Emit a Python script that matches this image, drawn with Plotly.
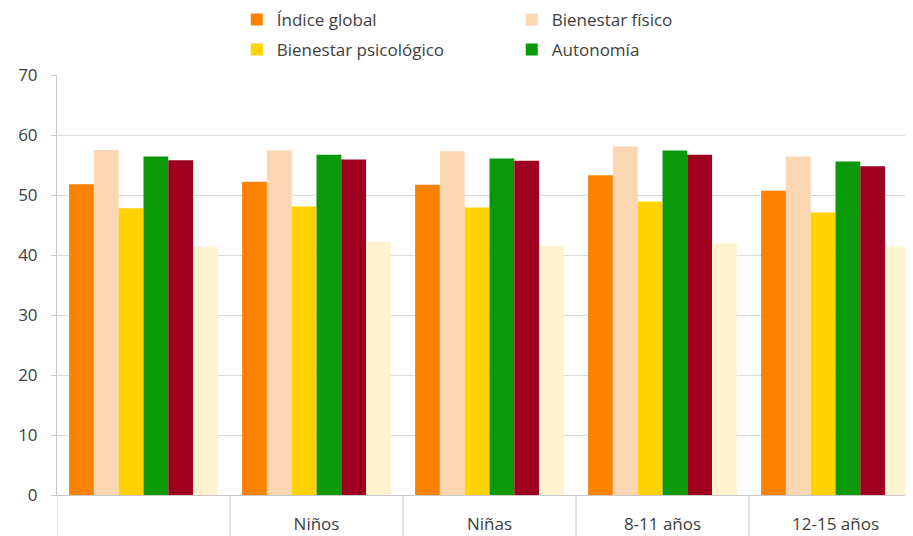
import plotly.graph_objects as go

groups = ["Total", "Niños", "Niñas", "8-11 años", "12-15 años"]
group_labels = ["", "Niños", "Niñas", "8-11 años", "12-15 años"]

indice_global = [51.8, 52.2, 51.7, 53.3, 50.7]
bienestar_fisico = [57.5, 57.4, 57.3, 58.1, 56.4]
bienestar_psicologico = [47.8, 48.1, 47.9, 48.9, 47.1]
autonomia = [56.4, 56.7, 56.1, 57.4, 55.6]
serie5 = [55.8, 55.9, 55.7, 56.7, 54.8]
serie6 = [41.4, 42.2, 41.5, 41.9, 41.4]

series = [
    ("Índice global", indice_global, "#FB8200", "legend", True),
    ("Bienestar físico", bienestar_fisico, "#FBD6B2", "legend", True),
    ("Bienestar psicológico", bienestar_psicologico, "#FFD200", "legend2", True),
    ("Autonomía", autonomia, "#0A990A", "legend2", True),
    ("Serie 5", serie5, "#A00020", "legend", False),
    ("Serie 6", serie6, "#FFF3D0", "legend", False),
]

font_family = "Open Sans, sans-serif"

fig = go.Figure()
for name, vals, color, leg, show in series:
    fig.add_trace(go.Bar(
        x=groups, y=vals, name=name, marker_color=color,
        marker_line_width=0, showlegend=show, legend=leg,
    ))

# cell separators below the axis
for i in range(len(groups)):
    fig.add_shape(type="line", xref="x", yref="paper",
                  x0=i - 0.5, x1=i - 0.5, y0=0, y1=-0.12,
                  line=dict(color="#C8C8C8", width=1))

legend_common = dict(orientation="h", xanchor="left", yanchor="middle",
                     entrywidth=230, entrywidthmode="pixels", traceorder="normal",
                     font=dict(size=17, color="#404040"), itemwidth=30,
                     bgcolor="rgba(0,0,0,0)")

fig.update_layout(
    width=913, height=536,
    margin=dict(l=49, r=8, t=67, b=49, autoexpand=False),
    paper_bgcolor="white", plot_bgcolor="white",
    barmode="group", bargap=0.14, bargroupgap=0,
    font=dict(family=font_family, size=17, color="#404040"),
    legend=dict(x=0.21, y=1.131, **legend_common),
    legend2=dict(x=0.21, y=1.0595, **legend_common),
)

fig.update_xaxes(
    range=[-0.5, 4.448], tickmode="array", tickvals=groups, ticktext=group_labels,
    showgrid=False, showline=True, linecolor="#C8C8C8", linewidth=1,
    ticks="", ticklabelstandoff=14, tickfont=dict(size=17, color="#404040"),
    zeroline=False, fixedrange=True, automargin=False,
)
fig.update_yaxes(
    range=[0, 70], dtick=10, tick0=0, showgrid=True, gridcolor="#D9D9D9", gridwidth=1,
    showline=True, linecolor="#C8C8C8", linewidth=1, ticks="outside", ticklen=5,
    tickcolor="#C8C8C8", tickfont=dict(size=17, color="#404040"), zeroline=False,
    ticklabelstandoff=10, automargin=False,
)

fig.write_html("out.html")
